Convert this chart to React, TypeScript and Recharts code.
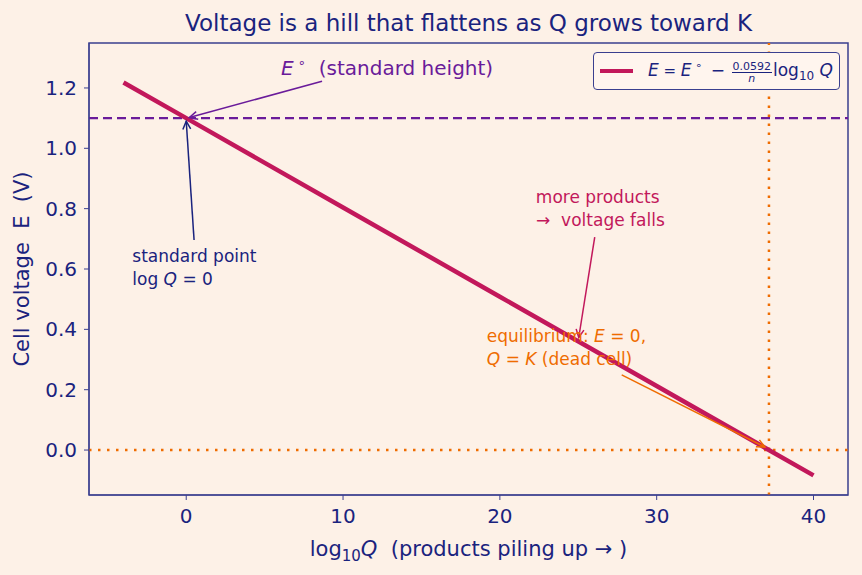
import {
  ComposedChart,
  Line,
  XAxis,
  YAxis,
  ReferenceLine,
  ReferenceDot,
  ReferenceArea,
  Legend,
  Label,
} from "recharts";

// Nernst line: E = E° - (0.0592/n) log10 Q with n = 2
const logQ = [-4, 0, 10, 20, 30, 40];
const voltage = [1.218, 1.1, 0.804, 0.508, 0.212, -0.084];

const xTicks = [0, 10, 20, 30, 40];
const yTicks = [0, 0.2, 0.4, 0.6, 0.8, 1.0, 1.2];

const standardE = 1.1;
const logK = 37.16;

const data = logQ.map((q, i) => ({ logQ: q, E: voltage[i] }));

const FONT = "'DejaVu Sans', sans-serif";
const BG = "#fdf1e7";
const NAVY = "#1a237e";
const FRAME = "#3a3f8f";
const CRIMSON = "#c2185b";
const PURPLE = "#6a1b9a";
const ORANGE = "#ef6c00";

const X_DOMAIN: [number, number] = [-6.2, 42.2];
const Y_DOMAIN: [number, number] = [-0.149, 1.349];

// open "->" style arrow, drawn from segment[0] to segment[1]
const arrow = (color: string) => (p: any) => {
  const { x1, y1, x2, y2 } = p;
  const a = Math.atan2(y2 - y1, x2 - x1);
  const len = 9;
  const spread = 0.45;
  const ax = x2 - len * Math.cos(a - spread);
  const ay = y2 - len * Math.sin(a - spread);
  const bx = x2 - len * Math.cos(a + spread);
  const by = y2 - len * Math.sin(a + spread);
  return (
    <g>
      <line x1={x1} y1={y1} x2={x2} y2={y2} stroke={color} strokeWidth={1.5} />
      <polyline
        points={`${ax},${ay} ${x2},${y2} ${bx},${by}`}
        fill="none"
        stroke={color}
        strokeWidth={1.5}
      />
    </g>
  );
};

const note =
  (color: string, anchor: "start" | "middle", lines: React.ReactNode[], size = 17) =>
  (p: any) => (
    <text
      x={p.cx}
      y={p.cy}
      fill={color}
      fontFamily={FONT}
      fontSize={size}
      textAnchor={anchor}
      style={{ whiteSpace: "pre" }}
    >
      {lines.map((l, i) => (
        <tspan key={i} x={p.cx} dy={i === 0 ? "0.35em" : 23}>
          {l}
        </tspan>
      ))}
    </text>
  );

const LegendBox = () => (
  <div
    style={{
      display: "flex",
      alignItems: "center",
      boxSizing: "border-box",
      height: 38,
      width: 247,
      border: `1.5px solid ${FRAME}`,
      borderRadius: 4,
      background: "#fff5ee",
      padding: "0 6px",
      fontFamily: FONT,
      color: NAVY,
      whiteSpace: "pre",
    }}
  >
    <span style={{ display: "inline-block", width: 37, height: 4, background: CRIMSON, marginRight: 15 }} />
    <span style={{ fontSize: 17, lineHeight: "20px" }}>
      <i>E</i>
      <span style={{ fontSize: 15 }}> = </span>
      <i>E</i>
      <span style={{ fontSize: 11, verticalAlign: 7 }}> ∘ </span>
      <span> − </span>
      <span
        style={{
          display: "inline-flex",
          flexDirection: "column",
          alignItems: "center",
          verticalAlign: 6,
          fontSize: 11,
          lineHeight: "11px",
          margin: "0 1px",
        }}
      >
        <span style={{ borderBottom: `1px solid ${NAVY}`, padding: "0 1px" }}>0.0592</span>
        <i>n</i>
      </span>
      <span>log</span>
      <span style={{ fontSize: 12, verticalAlign: -4 }}>10</span>
      <i> Q</i>
    </span>
  </div>
);

const XLabel = (p: any) => {
  const { x, y, width } = p.viewBox;
  return (
    <text x={x + width / 2} y={y + 61} textAnchor="middle" fill={NAVY} fontFamily={FONT} fontSize={21} style={{ whiteSpace: "pre" }}>
      <tspan>log</tspan>
      <tspan fontSize={15} dy={5}>10</tspan>
      <tspan fontStyle="italic" dy={-5}>Q</tspan>
      <tspan>{"  (products piling up → )"}</tspan>
    </text>
  );
};

const YLabel = (p: any) => {
  const { x, y, height } = p.viewBox;
  const cx = x + 22;
  const cy = y + height / 2;
  return (
    <text
      x={cx}
      y={cy}
      transform={`rotate(-90 ${cx} ${cy})`}
      textAnchor="middle"
      dominantBaseline="central"
      fill={NAVY}
      fontFamily={FONT}
      fontSize={21}
      style={{ whiteSpace: "pre" }}
    >
      Cell voltage  E  (V)
    </text>
  );
};

export default function App() {
  return (
    <div style={{ position: "absolute", top: 0, left: 0, width: 862, height: 575, background: BG }}>
      <div
        style={{
          position: "absolute",
          top: 8,
          left: 89,
          width: 759,
          textAlign: "center",
          fontFamily: FONT,
          fontSize: 23,
          lineHeight: "30px",
          color: NAVY,
        }}
      >
        Voltage is a hill that flattens as Q grows toward K
      </div>
      <ComposedChart
        width={862}
        height={575}
        data={data}
        margin={{ top: 43, right: 14, bottom: 0, left: 0 }}
        style={{ position: "absolute", top: 0, left: 0 }}
      >
        <XAxis
          dataKey="logQ"
          type="number"
          domain={X_DOMAIN}
          ticks={xTicks}
          allowDataOverflow
          height={80}
          tickSize={5}
          tickMargin={9}
          stroke={FRAME}
          tick={{ fill: NAVY, fontSize: 20, fontFamily: FONT }}
        >
          <Label content={XLabel} />
        </XAxis>
        <YAxis
          type="number"
          domain={Y_DOMAIN}
          ticks={yTicks}
          allowDataOverflow
          width={89}
          tickSize={5}
          tickMargin={7}
          stroke={FRAME}
          tickFormatter={(v: number) => v.toFixed(1)}
          tick={{ fill: NAVY, fontSize: 20, fontFamily: FONT }}
        >
          <Label content={YLabel} />
        </YAxis>

        <ReferenceArea
          x1={X_DOMAIN[0]}
          x2={X_DOMAIN[1]}
          y1={Y_DOMAIN[0]}
          y2={Y_DOMAIN[1]}
          fill="none"
          stroke={FRAME}
          strokeWidth={1.5}
          ifOverflow="visible"
        />

        <ReferenceLine y={standardE} stroke={PURPLE} strokeWidth={2.2} strokeDasharray="9 5" />
        <ReferenceLine y={0} stroke={ORANGE} strokeWidth={2.5} strokeDasharray="2.5 6.5" />
        <ReferenceLine x={logK} stroke={ORANGE} strokeWidth={2.5} strokeDasharray="2.5 6.5" />

        <Line
          dataKey="E"
          type="linear"
          stroke={CRIMSON}
          strokeWidth={4.5}
          dot={false}
          isAnimationActive={false}
          legendType="line"
        />

        {/* annotation arrows: tail -> head */}
        <ReferenceLine segment={[{ x: 8.66, y: 1.222 }, { x: 0.2, y: 1.102 }]} shape={arrow(PURPLE)} />
        <ReferenceLine segment={[{ x: 0.5, y: 0.696 }, { x: 0, y: 1.09 }]} shape={arrow(NAVY)} />
        <ReferenceLine segment={[{ x: 26.05, y: 0.706 }, { x: 25.03, y: 0.373 }]} shape={arrow(CRIMSON)} />
        <ReferenceLine segment={[{ x: 27.77, y: 0.249 }, { x: 36.9, y: 0.01 }]} shape={arrow(ORANGE)} />

        {/* annotation texts */}
        <ReferenceDot
          x={6.05}
          y={1.266}
          r={0}
          shape={note(
            PURPLE,
            "start",
            [
              <>
                <tspan fontStyle="italic">E</tspan>
                <tspan fontSize={13} dy={-8}>{" ∘"}</tspan>
                <tspan dy={8}>{"  (standard height)"}</tspan>
              </>,
            ],
            20
          )}
        />
        <ReferenceDot
          x={-3.44}
          y={0.643}
          r={0}
          shape={note(NAVY, "start", [
            "standard point",
            <>
              <tspan>log </tspan>
              <tspan fontStyle="italic">Q</tspan>
              <tspan> = 0</tspan>
            </>,
          ])}
        />
        <ReferenceDot
          x={26.24}
          y={0.839}
          r={0}
          shape={note(CRIMSON, "middle", ["more products", " →  voltage falls"])}
        />
        <ReferenceDot
          x={19.17}
          y={0.378}
          r={0}
          shape={note(ORANGE, "start", [
            <>
              <tspan>equilibrium: </tspan>
              <tspan fontStyle="italic">E</tspan>
              <tspan> = 0,</tspan>
            </>,
            <>
              <tspan fontStyle="italic">Q</tspan>
              <tspan> = </tspan>
              <tspan fontStyle="italic">K</tspan>
              <tspan> (dead cell)</tspan>
            </>,
          ])}
        />

        <Legend
          layout="horizontal"
          verticalAlign="middle"
          align="center"
          content={() => <LegendBox />}
          wrapperStyle={{ top: 52, left: 593, width: 247, height: 38 }}
        />
      </ComposedChart>
    </div>
  );
}
